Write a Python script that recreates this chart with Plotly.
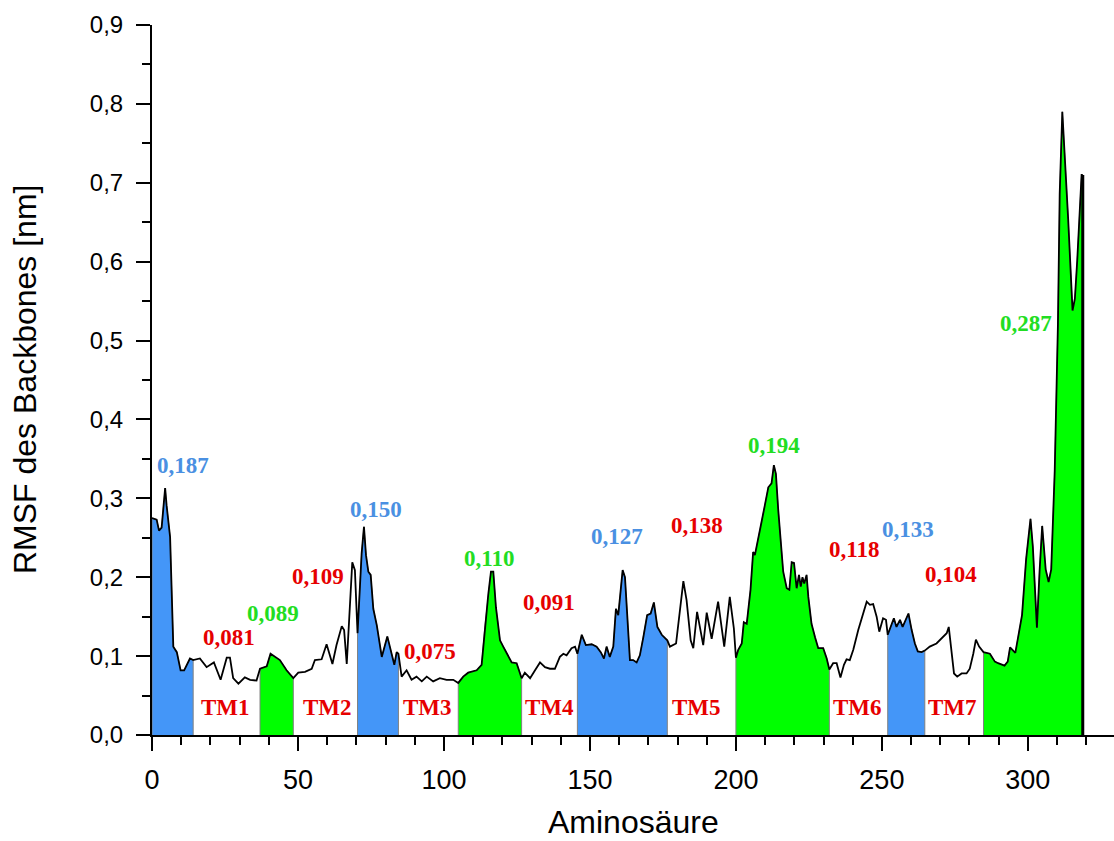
import plotly.graph_objects as go

# RMSF of the backbone per residue (nm)
residue = [
    0, 1.6, 2.4, 3.3, 4.5, 5.0, 6.2, 7.3, 8.5, 9.8, 11.0, 13.0, 14.1, 16.4, 18.7, 21.2, 23.5, 25.6, 26.7, 27.8,
    29.6, 31.8, 33.6, 35.8, 37.0, 39.3, 40.6, 42.7, 43.8, 46.1, 48.4, 50.1, 52.4, 54.7, 55.8, 58.1, 59.8, 61.8,
    63.2, 65.0, 65.8, 66.7, 67.6, 68.6, 69.5, 70.4, 71.8, 72.6, 73.3, 74.1, 74.9, 75.8, 77.0, 78.7, 80.6, 82.1,
    83.0, 83.8, 84.4, 85.5, 87.2, 88.9, 90.6, 92.4, 94.1, 96.3, 98.6, 100.9, 103.2, 104.9, 106.6, 108.3, 111.2,
    112.9, 114.0, 115.2, 116.1, 116.9, 117.8, 119.2, 120.3, 121.5, 123.2, 124.9, 126.6, 127.7, 129.5, 131.2,
    132.9, 134.6, 136.3, 138.0, 139.7, 140.9, 142.0, 143.7, 144.9, 145.7, 147.2, 148.6, 150.6, 152.3, 153.7,
    154.8, 155.7, 156.8, 158.0, 158.9, 159.7, 161.2, 162.0, 163.7, 164.8, 166.0, 167.1, 168.3, 169.6, 170.8,
    171.9, 173.1, 174.6, 176.5, 177.4, 179.5, 180.6, 182.0, 183.1, 184.5, 185.4, 186.7, 188.8, 190.0, 191.7,
    193.9, 196.0, 197.9, 199.3, 200.0, 200.8, 202.0, 202.7, 203.7, 205.0, 205.9, 206.5, 207.6, 208.8, 209.9,
    211.1, 212.2, 213.0, 213.7, 214.5, 215.4, 216.2, 217.4, 218.3, 219.1, 219.9, 220.8, 221.6, 222.2, 222.8,
    223.4, 224.2, 224.8, 225.9, 227.1, 228.2, 229.9, 231.1, 232.0, 233.3, 234.5, 235.8, 237.0, 237.9, 239.0,
    240.2, 241.9, 243.6, 244.8, 245.9, 247.0, 248.2, 249.1, 250.4, 251.4, 252.0, 253.0, 254.1, 255.0, 256.2,
    257.1, 258.2, 259.1, 260.2, 261.3, 262.3, 263.6, 264.7, 266.4, 268.7, 271.0, 272.2, 272.9, 273.5, 274.7,
    275.8, 277.3, 279.0, 280.1, 281.3, 282.2, 283.3, 284.8, 287.0, 288.7, 289.8, 292.0, 293.1, 293.9, 295.7,
    298.0, 299.4, 300.9, 301.7, 303.1, 304.0, 304.9, 306.1, 307.1, 308.0, 309.2, 310.3, 310.9, 311.8, 312.6,
    313.8, 315.3, 316.1, 316.9, 318.0, 318.4, 318.8,
]
rmsf = [
    0.275, 0.273, 0.259, 0.263, 0.313, 0.291, 0.251, 0.112, 0.105, 0.082, 0.082, 0.097, 0.095, 0.097, 0.086,
    0.092, 0.070, 0.098, 0.098, 0.072, 0.065, 0.073, 0.070, 0.069, 0.084, 0.087, 0.103, 0.097, 0.095, 0.082,
    0.072, 0.079, 0.080, 0.084, 0.095, 0.096, 0.115, 0.090, 0.114, 0.138, 0.133, 0.090, 0.146, 0.219, 0.209,
    0.129, 0.230, 0.264, 0.228, 0.207, 0.203, 0.160, 0.139, 0.099, 0.125, 0.103, 0.089, 0.105, 0.103, 0.074,
    0.082, 0.070, 0.074, 0.068, 0.074, 0.068, 0.072, 0.070, 0.070, 0.066, 0.074, 0.079, 0.082, 0.089, 0.137,
    0.179, 0.207, 0.207, 0.162, 0.120, 0.112, 0.103, 0.092, 0.091, 0.072, 0.079, 0.072, 0.082, 0.092, 0.086,
    0.084, 0.084, 0.099, 0.103, 0.101, 0.110, 0.112, 0.103, 0.127, 0.114, 0.115, 0.112, 0.105, 0.097, 0.112,
    0.099, 0.112, 0.160, 0.152, 0.209, 0.200, 0.095, 0.095, 0.092, 0.101, 0.124, 0.152, 0.154, 0.168, 0.137,
    0.127, 0.120, 0.112, 0.116, 0.150, 0.195, 0.171, 0.120, 0.110, 0.156, 0.114, 0.155, 0.122, 0.169, 0.112,
    0.175, 0.135, 0.098, 0.108, 0.116, 0.143, 0.141, 0.184, 0.232, 0.228, 0.247, 0.268, 0.291, 0.314, 0.319,
    0.342, 0.331, 0.285, 0.243, 0.207, 0.186, 0.184, 0.219, 0.218, 0.186, 0.203, 0.188, 0.200, 0.192, 0.203,
    0.175, 0.141, 0.124, 0.110, 0.110, 0.097, 0.083, 0.091, 0.091, 0.073, 0.089, 0.096, 0.095, 0.108, 0.133,
    0.156, 0.169, 0.165, 0.166, 0.150, 0.131, 0.148, 0.146, 0.127, 0.137, 0.148, 0.137, 0.146, 0.137, 0.146,
    0.154, 0.133, 0.116, 0.106, 0.105, 0.107, 0.112, 0.116, 0.124, 0.129, 0.137, 0.116, 0.078, 0.074, 0.078,
    0.078, 0.084, 0.103, 0.121, 0.112, 0.105, 0.103, 0.093, 0.091, 0.088, 0.093, 0.111, 0.104, 0.152, 0.223,
    0.274, 0.239, 0.136, 0.207, 0.265, 0.210, 0.194, 0.210, 0.335, 0.521, 0.686, 0.790, 0.740, 0.654, 0.538,
    0.553, 0.601, 0.692, 0.710, 0.710,
]

# Loop / terminal segments shaded under the curve
seg_start = [0, 37.0, 70.4, 104.9, 145.7, 200.0, 252.0, 284.8]
seg_end = [14.1, 48.4, 84.4, 126.6, 176.5, 232.0, 264.7, 318.8]
seg_kind = ["blue", "green", "blue", "green", "blue", "green", "blue", "green"]

# Mean RMSF labels
label_text = ["0,187", "0,081", "0,089", "0,109", "0,150", "0,075", "0,110", "0,091",
              "0,127", "0,138", "0,194", "0,118", "0,133", "0,104", "0,287"]
label_x = [10.6, 26.4, 41.4, 56.8, 76.7, 95.2, 115.4, 136.0, 159.2, 186.6, 213.0, 240.4, 258.9, 273.6, 299.3]
label_y = [0.342, 0.124, 0.154, 0.201, 0.286, 0.106, 0.224, 0.168, 0.251, 0.266, 0.367, 0.235, 0.260, 0.203, 0.522]
label_kind = ["blue", "red", "green", "red", "blue", "red", "green", "red",
              "blue", "red", "green", "red", "blue", "red", "green"]

# Transmembrane helix labels
tm_text = ["TM1", "TM2", "TM3", "TM4", "TM5", "TM6", "TM7"]
tm_x = [25.3, 60.0, 94.5, 136.3, 186.6, 241.8, 274.3]
tm_y = 0.035

fill_color = {"blue": "#4496f8", "green": "#00ff00"}
text_color = {"blue": "#4a90e2", "green": "#22dd22", "red": "#e60000"}

fig = go.Figure()

for s, e, k in zip(seg_start, seg_end, seg_kind):
    xs = [v for v in residue if s - 1e-9 <= v <= e + 1e-9]
    ys = [rmsf[i] for i, v in enumerate(residue) if s - 1e-9 <= v <= e + 1e-9]
    fig.add_trace(go.Scatter(
        x=[s] + xs + [e], y=[0] + ys + [0],
        mode="lines", fill="toself", fillcolor=fill_color[k],
        line=dict(color="#808080", width=1), hoverinfo="skip", showlegend=False,
    ))

fig.add_trace(go.Scatter(
    x=residue, y=rmsf, mode="lines",
    line=dict(color="black", width=1.8), showlegend=False,
))
# closing edge at the C-terminus
fig.add_trace(go.Scatter(
    x=[residue[-1], residue[-1]], y=[rmsf[-1], 0], mode="lines",
    line=dict(color="black", width=3), showlegend=False,
))

for t, x, y, k in zip(label_text, label_x, label_y, label_kind):
    fig.add_annotation(x=x, y=y, text=t, showarrow=False,
                       font=dict(family="Liberation Serif", size=23, color=text_color[k], weight="bold"))
for t, x in zip(tm_text, tm_x):
    fig.add_annotation(x=x, y=tm_y, text=t, showarrow=False,
                       font=dict(family="Liberation Serif", size=23, color=text_color["red"], weight="bold"))

fig.add_annotation(xref="paper", yref="paper", x=0.5, y=-0.122, yanchor="middle",
                   text="Aminosäure", showarrow=False,
                   font=dict(family="Liberation Sans", size=32, color="black"))
fig.add_annotation(xref="paper", yref="paper", x=-0.132, y=0.5, xanchor="center", yanchor="middle",
                   text="RMSF des Backbones [nm]", textangle=-90, showarrow=False,
                   font=dict(family="Liberation Sans", size=32, color="black"))

fig.update_xaxes(
    range=[0, 329.5], tickmode="linear", tick0=0, dtick=50,
    ticks="outside", ticklen=14, tickwidth=2, tickcolor="black",
    showline=True, linecolor="black", linewidth=2, showgrid=False, zeroline=False,
    tickfont=dict(family="Liberation Sans", size=27, color="black"), ticklabelstandoff=6,
    minor=dict(dtick=10, ticks="outside", ticklen=8, tickwidth=2, tickcolor="black", showgrid=False),
)
fig.update_yaxes(
    range=[0, 0.9], tickmode="linear", tick0=0, dtick=0.1, tickformat=".1f",
    ticks="outside", ticklen=14, tickwidth=2, tickcolor="black",
    showline=True, linecolor="black", linewidth=2, showgrid=False, zeroline=False,
    tickfont=dict(family="Liberation Sans", size=24, color="black"), ticklabelstandoff=8,
    minor=dict(dtick=0.05, ticks="outside", ticklen=8, tickwidth=2, tickcolor="black", showgrid=False),
)

fig.update_layout(
    width=1114, height=841, separators=",.",
    margin=dict(l=152, r=0, t=25, b=106, autoexpand=False),
    plot_bgcolor="white", paper_bgcolor="white",
)

fig.write_html("out.html")
